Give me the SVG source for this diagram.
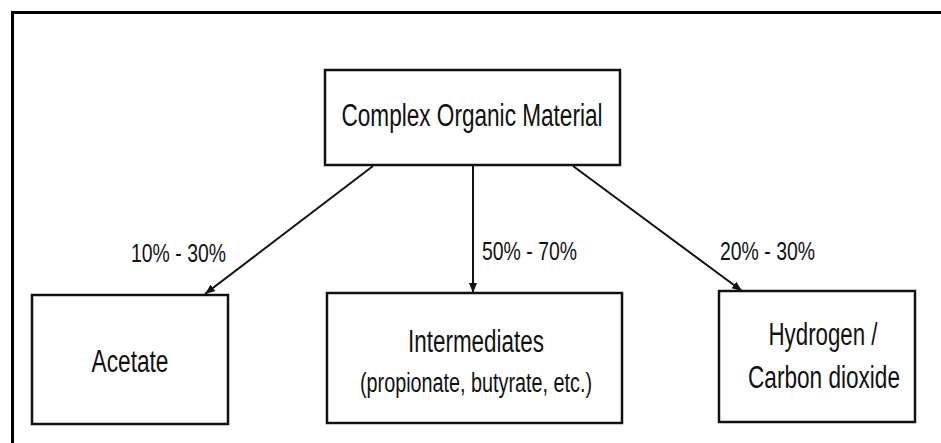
<svg xmlns="http://www.w3.org/2000/svg" width="941" height="443" viewBox="0 0 941 443">
  <style>
    .frame { fill: none; stroke: #000; stroke-width: 3; }
    .box { fill: #fff; stroke: #111; stroke-width: 2.5; }
    .label { font-family: "Liberation Sans", Arial, sans-serif; fill: #111; text-anchor: middle; }
    .big { font-size: 31px; }
    .pct { font-size: 26px; text-anchor: start; }
    .edge { stroke: #111; stroke-width: 2; fill: none; marker-end: url(#arrow); }
  </style>
  <defs>
    <marker id="arrow" viewBox="0 0 10 10" refX="10" refY="5" markerWidth="10" markerHeight="10" markerUnits="userSpaceOnUse" orient="auto">
      <path d="M0,1 L10,5 L0,9 Z" fill="#111"/>
    </marker>
  </defs>

  <rect width="941" height="443" fill="#fff"/>
  <!-- page frame: top and left rules only -->
  <path class="frame" d="M12.5,443 V12.5 H941"/>

  <g id="connectors">
    <line class="edge" x1="373" y1="166" x2="205" y2="294"/>
    <line class="edge" x1="473" y1="166" x2="473" y2="293"/>
    <line class="edge" x1="573" y1="166" x2="742" y2="291"/>
    <text class="label pct" x="131" y="262" textLength="95" lengthAdjust="spacingAndGlyphs">10% - 30%</text>
    <text class="label pct" x="482" y="260" textLength="95" lengthAdjust="spacingAndGlyphs">50% - 70%</text>
    <text class="label pct" x="720" y="260" textLength="95" lengthAdjust="spacingAndGlyphs">20% - 30%</text>
  </g>

  <g id="complex-organic-material">
    <rect class="box" x="325" y="70" width="295" height="95"/>
    <text class="label big" x="472" y="126" textLength="261" lengthAdjust="spacingAndGlyphs">Complex Organic Material</text>
  </g>

  <g id="acetate">
    <rect class="box" x="32" y="295" width="196" height="129"/>
    <text class="label big" x="130" y="372" textLength="77" lengthAdjust="spacingAndGlyphs">Acetate</text>
  </g>

  <g id="intermediates">
    <rect class="box" x="327" y="293" width="295" height="130"/>
    <text class="label big" x="476" y="352" textLength="136" lengthAdjust="spacingAndGlyphs">Intermediates</text>
    <text class="label" x="476" y="392" font-size="27" textLength="232" lengthAdjust="spacingAndGlyphs">(propionate, butyrate, etc.)</text>
  </g>

  <g id="hydrogen-carbon-dioxide">
    <rect class="box" x="719" y="291" width="196" height="131"/>
    <text class="label big" x="823" y="345" textLength="109" lengthAdjust="spacingAndGlyphs">Hydrogen /</text>
    <text class="label big" x="824" y="388" textLength="152" lengthAdjust="spacingAndGlyphs">Carbon dioxide</text>
  </g>
</svg>
